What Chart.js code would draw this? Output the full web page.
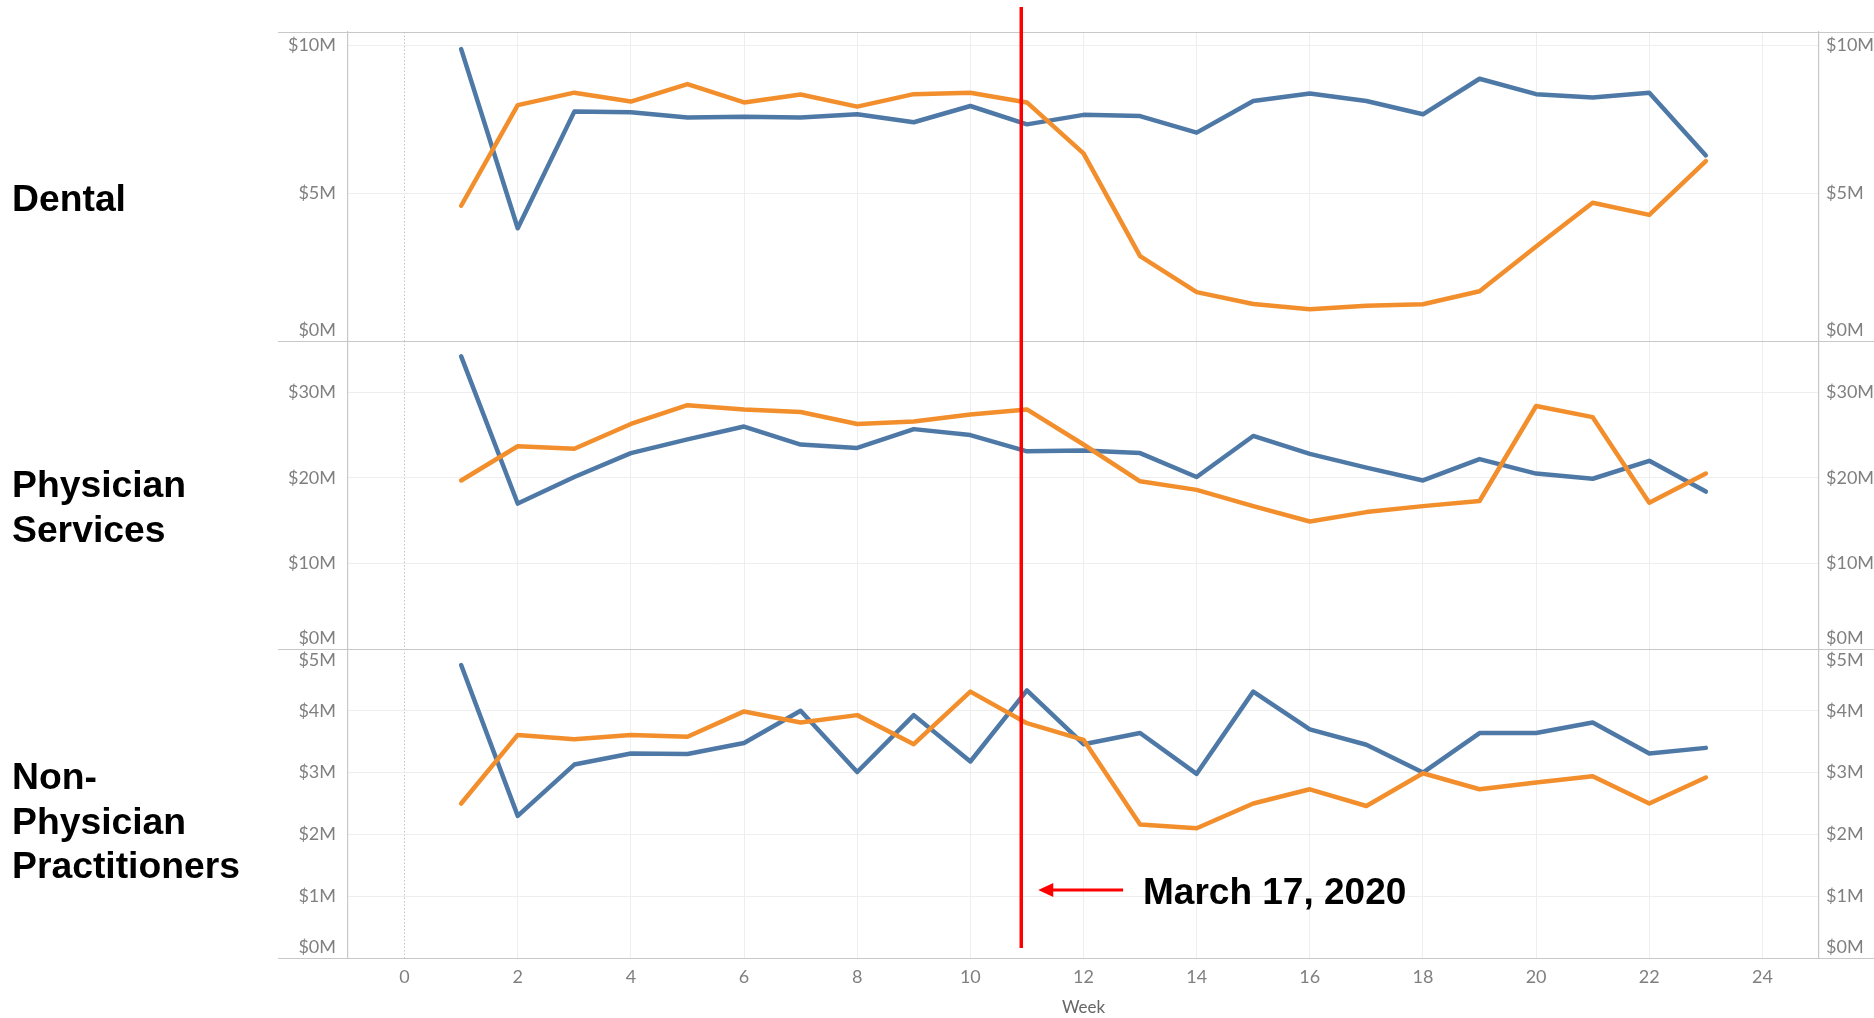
<!DOCTYPE html>
<html>
<head>
<meta charset="utf-8">
<script src="https://cdn.jsdelivr.net/npm/chart.js@4.4.1/dist/chart.umd.min.js"></script>
<style>
  body { margin: 0; background: #fff; width: 1874px; height: 1018px; overflow: hidden; position: relative;
         font-family: "Liberation Sans", Arial, sans-serif; }
  canvas { position: absolute; left: 0; top: 0; }
  .cat { position: absolute; left: 12px; font-weight: bold; font-size: 37.3px; line-height: 44.7px; color: #000; }
  #mark { position: absolute; left: 1143px; top: 873px; font-weight: bold; font-size: 37px; line-height: 38px; color: #000; white-space: nowrap; }
</style>
</head>
<body>
<canvas id="dental" width="1874" height="1018"></canvas>
<canvas id="physician" width="1874" height="1018"></canvas>
<canvas id="npp" width="1874" height="1018"></canvas>

<div class="cat" style="top:176px">Dental</div>
<div class="cat" style="top:462px">Physician<br>Services</div>
<div class="cat" style="top:754px">Non-<br>Physician<br>Practitioners</div>
<div id="mark">March 17, 2020</div>

<script>
// weekly amounts, $M
const weeks = [1, 2, 3, 4, 5, 6, 7, 8, 9, 10, 11, 12, 13, 14, 15, 16, 17, 18, 19, 20, 21, 22, 23];

const dentalBlue   = [9.86, 3.81, 7.75, 7.73, 7.55, 7.58, 7.55, 7.66, 7.39, 7.94, 7.32, 7.64, 7.60, 7.04, 8.11, 8.36, 8.11, 7.66, 8.86, 8.34, 8.23, 8.39, 6.27];
const dentalOrange = [4.57, 7.97, 8.39, 8.09, 8.68, 8.06, 8.33, 7.92, 8.34, 8.39, 8.06, 6.34, 2.87, 1.65, 1.25, 1.07, 1.19, 1.24, 1.68, 3.19, 4.67, 4.26, 6.08];

const physBlue   = [34.2, 17.0, 20.1, 22.9, 24.5, 26.0, 23.9, 23.5, 25.7, 25.0, 23.1, 23.2, 22.9, 20.1, 24.9, 22.8, 21.2, 19.7, 22.2, 20.5, 19.9, 22.0, 18.4];
const physOrange = [19.7, 23.7, 23.4, 26.3, 28.5, 28.0, 27.7, 26.3, 26.6, 27.4, 28.0, 23.9, 19.6, 18.6, 16.7, 14.9, 16.0, 16.7, 17.3, 28.4, 27.1, 17.1, 20.5];

const nppBlue   = [4.74, 2.30, 3.13, 3.31, 3.30, 3.48, 4.00, 3.01, 3.93, 3.18, 4.33, 3.46, 3.64, 2.98, 4.31, 3.70, 3.45, 3.00, 3.64, 3.64, 3.81, 3.31, 3.40];
const nppOrange = [2.50, 3.61, 3.54, 3.61, 3.58, 3.99, 3.81, 3.93, 3.46, 4.31, 3.80, 3.53, 2.16, 2.10, 2.50, 2.73, 2.46, 2.99, 2.73, 2.84, 2.94, 2.50, 2.92];

// axis ranges and tick values
const dentalMax = 10.44, dentalTicks = [0, 5, 10];
const physMax = 36, physTicks = [0, 10, 20, 30];
const nppMax = 5, nppTicks = [0, 1, 2, 3, 4, 5];
const weekMin = -1, weekMax = 25;
const weekTicks = [0, 2, 4, 6, 8, 10, 12, 14, 16, 18, 20, 22, 24];

// the March 17 marker
const markWeek = 10.9;
const arrowFrom = 12.7, arrowTo = 11.2, arrowLevel = 1.1;

const BLUE = '#4e79a7';
const ORANGE = '#f28e2b';
const TICK_COLOR = '#808080';
const GRID = '#eeeeee';
const SEP = '#c8c8c8';
const tickFont = { family: 'Lato, "Open Sans", sans-serif', size: 18 };

function points(vals) {
    return weeks.map((w, i) => ({ x: w, y: vals[i] }));
}

function setTicks(values) {
    return s => { s.ticks = values.map(v => ({ value: v })); };
}

function yLabel(max) {
    return function (v) {
        const txt = '$' + v + 'M';
        if (v === 0) return [txt, ''];          // Tableau keeps edge labels inside the pane
        if (v === max) return ['', txt];
        return txt;
    };
}

// horizontal pane separators running under the labels
const separators = {
    id: 'separators',
    afterDraw(chart, args, opts) {
        const ctx = chart.ctx;
        const a = chart.chartArea;
        ctx.save();
        ctx.strokeStyle = SEP;
        ctx.lineWidth = 1.2;
        ctx.beginPath();
        ctx.moveTo(278, a.top + 0.5);
        ctx.lineTo(chart.width, a.top + 0.5);
        if (opts.bottom) {
            ctx.moveTo(278, a.bottom + 0.5);
            ctx.lineTo(chart.width, a.bottom + 0.5);
        }
        ctx.stroke();
        ctx.restore();
    }
};

// red vertical line for March 17, 2020 plus the arrow
const marchLine = {
    id: 'marchLine',
    afterDraw(chart) {
        const xs = chart.scales.x, ys = chart.scales.y;
        const ctx = chart.ctx;
        const x = xs.getPixelForValue(markWeek);
        ctx.save();
        ctx.strokeStyle = '#ff0000';
        ctx.fillStyle = '#ff0000';
        ctx.lineWidth = 3.5;
        ctx.beginPath();
        ctx.moveTo(x, 7);
        ctx.lineTo(x, chart.chartArea.bottom - 10);
        ctx.stroke();

        const y = ys.getPixelForValue(arrowLevel);
        const x0 = xs.getPixelForValue(arrowFrom);
        const x1 = xs.getPixelForValue(arrowTo);
        ctx.lineWidth = 3;
        ctx.beginPath();
        ctx.moveTo(x0, y);
        ctx.lineTo(x1 + 12, y);
        ctx.stroke();
        ctx.beginPath();
        ctx.moveTo(x1, y);
        ctx.lineTo(x1 + 15, y - 7);
        ctx.lineTo(x1 + 15, y + 7);
        ctx.closePath();
        ctx.fill();
        ctx.restore();
    }
};

function makePanel(id, blue, orange, max, yTickValues, top, bottom, showX) {
    const yTicks = {
        color: TICK_COLOR,
        font: tickFont,
        callback: yLabel(max)
    };
    const plugins = [separators];
    if (showX) plugins.push(marchLine);

    return new Chart(document.getElementById(id), {
        type: 'line',
        data: {
            datasets: [
                { label: '2020', data: points(orange), borderColor: ORANGE, order: 0 },
                { label: '2019', data: points(blue), borderColor: BLUE, order: 1 }
            ]
        },
        options: {
            responsive: false,
            animation: false,
            events: [],
            layout: { padding: { top: top, bottom: bottom, left: 0, right: 0 } },
            elements: {
                point: { radius: 0 },
                line: { borderWidth: 4.5, tension: 0, borderJoinStyle: 'round', borderCapStyle: 'round', fill: false }
            },
            plugins: {
                legend: { display: false },
                tooltip: { enabled: false },
                separators: { bottom: showX }
            },
            scales: {
                x: {
                    type: 'linear',
                    min: weekMin,
                    max: weekMax,
                    afterBuildTicks: setTicks(weekTicks),
                    ticks: {
                        display: showX,
                        autoSkip: false,
                        maxRotation: 0,
                        color: TICK_COLOR,
                        font: tickFont,
                        padding: 8
                    },
                    grid: {
                        drawTicks: false,
                        color: ctx => (ctx.tick && ctx.tick.value === 0) ? '#c4c4c4' : GRID
                    },
                    border: { display: false, dash: ctx => (ctx.tick && ctx.tick.value === 0) ? [1.5, 2] : [] },
                    title: {
                        display: showX,
                        text: 'Week',
                        color: '#666666',
                        font: { family: tickFont.family, size: 17 },
                        padding: { top: 0, bottom: 0 }
                    },
                    afterFit: s => { s.height = showX ? 60 : 0; }
                },
                y: {
                    type: 'linear',
                    position: 'left',
                    min: 0,
                    max: max,
                    afterBuildTicks: setTicks(yTickValues),
                    ticks: Object.assign({ padding: 12 }, yTicks),
                    grid: {
                        drawTicks: false,
                        color: ctx => {
                            const v = ctx.tick ? ctx.tick.value : 0;
                            return (v === 0 || v === max) ? 'rgba(0,0,0,0)' : GRID;
                        }
                    },
                    border: { display: true, color: SEP, width: 1.2 },
                    afterFit: s => { s.width = 348; }
                },
                yRight: {
                    type: 'linear',
                    position: 'right',
                    min: 0,
                    max: max,
                    afterBuildTicks: setTicks(yTickValues),
                    ticks: Object.assign({ padding: 7 }, yTicks),
                    grid: { drawTicks: false, drawOnChartArea: false },
                    border: { display: true, color: SEP, width: 1.2 },
                    afterFit: s => { s.width = 55; }
                }
            }
        },
        plugins: plugins
    });
}

makePanel('dental', dentalBlue, dentalOrange, dentalMax, dentalTicks, 32, 1018 - 341, false);
makePanel('physician', physBlue, physOrange, physMax, physTicks, 341, 1018 - 649, false);
makePanel('npp', nppBlue, nppOrange, nppMax, nppTicks, 649, 0, true);
</script>
</body>
</html>
